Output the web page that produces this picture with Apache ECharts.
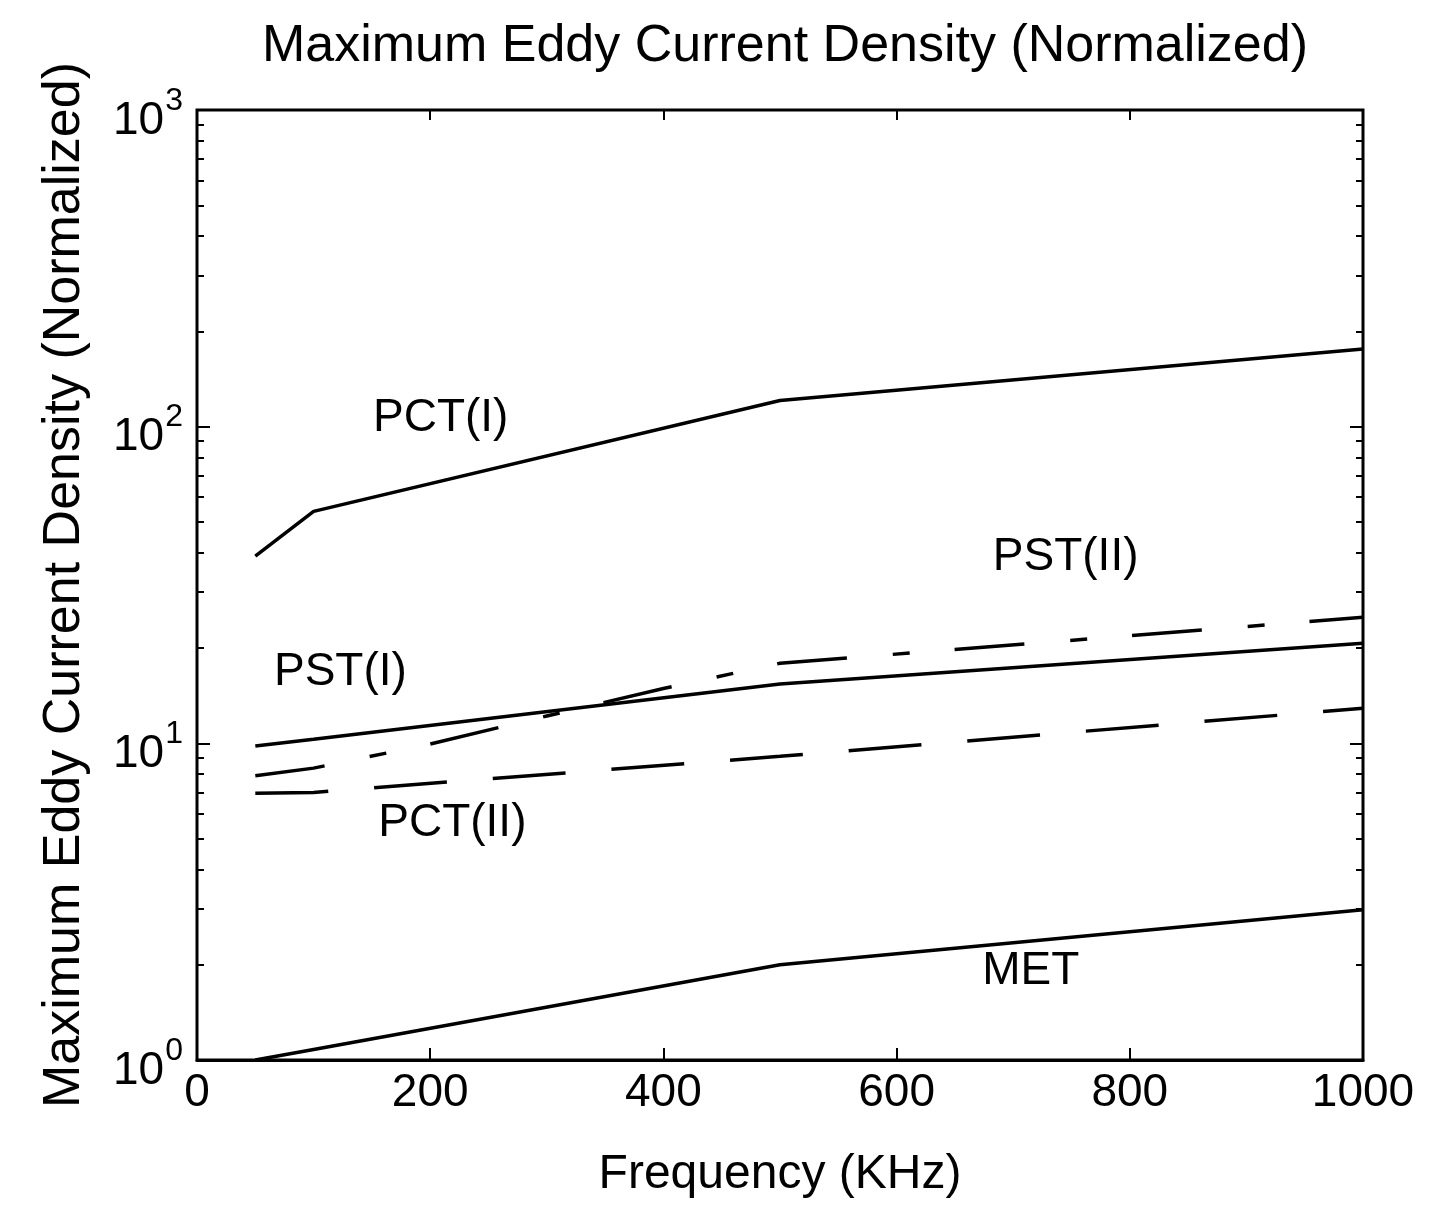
<!DOCTYPE html>
<html>
<head>
<meta charset="utf-8">
<script src="https://cdn.jsdelivr.net/npm/echarts@6/dist/echarts.min.js"></script>
<style>
html,body{margin:0;padding:0;background:#fff;}
#chart{width:1432px;height:1219px;}
</style>
</head>
<body>
<div id="chart"></div>
<script>
// ---- data ----
const xTicks = [0, 200, 400, 600, 800, 1000];
const yTicks = [1, 10, 100, 1000];
const yMinorTicks = [2,3,4,5,6,7,8,9,20,30,40,50,60,70,80,90,200,300,400,500,600,700,800,900];

const freqPCT1 = [50, 100, 500, 1000];
const valPCT1  = [39, 54, 121, 176];

const freqPST1 = [50, 100, 500, 1000];
const valPST1  = [9.8, 10.3, 15.4, 20.7];

const freqPST2 = [50, 100, 200, 300, 400, 500, 1000];
const valPST2  = [7.9, 8.35, 9.95, 12.2, 14.9, 17.9, 25.0];

const freqPCT2 = [50, 100, 500, 1000];
const valPCT2  = [6.95, 7.0, 9.1, 12.9];

const freqMET = [50, 100, 500, 1000];
const valMET  = [1.0, 1.08, 2.0, 2.98];

const labelText  = ['PCT(I)', 'PST(II)', 'PST(I)', 'PCT(II)', 'MET'];
const labelFreq  = [209, 745, 123, 219, 715];
const labelValue = [106, 38.7, 16.8, 5.6, 1.9];

const titleText = 'Maximum Eddy Current Density (Normalized)';
const xName = 'Frequency (KHz)';
const yName = 'Maximum Eddy Current Density (Normalized)';

// ---- chart ----
const FONT = "'Liberation Sans', Arial, Helvetica, sans-serif";
const pairs = (xs, ys) => xs.map((x, i) => [x, ys[i]]);
const supDigits = {1: '0', 10: '1', 100: '2', 1000: '3'};

const chart = echarts.init(document.getElementById('chart'), null, {renderer: 'canvas'});

const lineBase = (name, data, type) => ({
  name, type: 'line', data, showSymbol: false, symbol: 'none',
  xAxisIndex: 0, yAxisIndex: 0, silent: true, animation: false,
  lineStyle: {color: '#000', width: 3.5, type: type || 'solid'}
});

const logAxis = (extra) => Object.assign({
  type: 'log', logBase: 10, min: 1, max: 1000,
  splitLine: {show: false},
  axisLine: {show: false},
  axisLabel: {show: false},
  axisTick: {show: false}
}, extra);

const option = {
  backgroundColor: '#fff',
  animation: false,
  title: {
    text: titleText,
    left: 780, top: 16, textAlign: 'center',
    textStyle: {fontFamily: FONT, fontSize: 52, fontWeight: 'normal', color: '#000'}
  },
  grid: {left: 197, right: 69, top: 110, bottom: 159, show: true, borderColor: '#000', borderWidth: 3, backgroundColor: 'transparent'},
  xAxis: [
    {
      type: 'value', min: 0, max: 1000, interval: 200, position: 'bottom',
      splitLine: {show: false},
      axisLine: {show: true, onZero: false, lineStyle: {color: '#000', width: 3}},
      axisTick: {show: true, inside: true, length: 12, lineStyle: {color: '#000', width: 2}},
      axisLabel: {show: true, margin: 10, fontFamily: FONT, fontSize: 46, color: '#000',
        customValues: xTicks, formatter: v => String(v)},
      name: xName, nameLocation: 'middle', nameGap: 115,
      nameTextStyle: {fontFamily: FONT, fontSize: 48, color: '#000', verticalAlign: 'middle'}
    },
    {
      type: 'value', min: 0, max: 1000, interval: 200, position: 'top',
      splitLine: {show: false},
      axisLine: {show: false},
      axisTick: {show: true, inside: true, length: 10, lineStyle: {color: '#000', width: 2}},
      axisLabel: {show: false}
    }
  ],
  yAxis: [
    logAxis({
      position: 'left',
      axisTick: {show: true, inside: true, length: 13, lineStyle: {color: '#000', width: 2}},
      axisLabel: {
        show: true, margin: 14, color: '#000', fontFamily: FONT,
        formatter: v => '{b|10}{s|' + (supDigits[Math.round(v)] || '') + '}',
        rich: {
          b: {fontFamily: FONT, fontSize: 46, color: '#000', padding: [22, 0, 0, 0]},
          s: {fontFamily: FONT, fontSize: 32, color: '#000', padding: [0, 0, 18, 1]}
        }
      },
      name: yName, nameLocation: 'middle', nameGap: 132, nameRotate: 90,
      nameTextStyle: {fontFamily: FONT, fontSize: 52, color: '#000', verticalAlign: 'middle'}
    }),
    logAxis({
      position: 'left',
      axisTick: {show: true, inside: true, length: 7, customValues: yMinorTicks, lineStyle: {color: '#000', width: 2}}
    }),
    logAxis({
      position: 'right',
      axisTick: {show: true, inside: true, length: 13, lineStyle: {color: '#000', width: 2}}
    }),
    logAxis({
      position: 'right',
      axisTick: {show: true, inside: true, length: 7, customValues: yMinorTicks, lineStyle: {color: '#000', width: 2}}
    })
  ],
  series: [
    lineBase('PCT(I)', pairs(freqPCT1, valPCT1)),
    lineBase('PST(I)', pairs(freqPST1, valPST1)),
    lineBase('PST(II)', pairs(freqPST2, valPST2), [70, 46, 17, 45]),
    lineBase('PCT(II)', pairs(freqPCT2, valPCT2), [73, 46]),
    lineBase('MET', pairs(freqMET, valMET)),
    {
      name: 'labels', type: 'scatter', xAxisIndex: 0, yAxisIndex: 0, silent: true,
      symbol: 'circle', symbolSize: 1,
      itemStyle: {color: 'rgba(0,0,0,0)', opacity: 1},
      data: labelText.map((t, i) => ({value: [labelFreq[i], labelValue[i]], name: t})),
      label: {
        show: true, position: 'inside', formatter: p => p.name,
        fontFamily: FONT, fontSize: 46, color: '#000', opacity: 1,
        textBorderWidth: 0
      }
    }
  ]
};
chart.setOption(option);
</script>
</body>
</html>
